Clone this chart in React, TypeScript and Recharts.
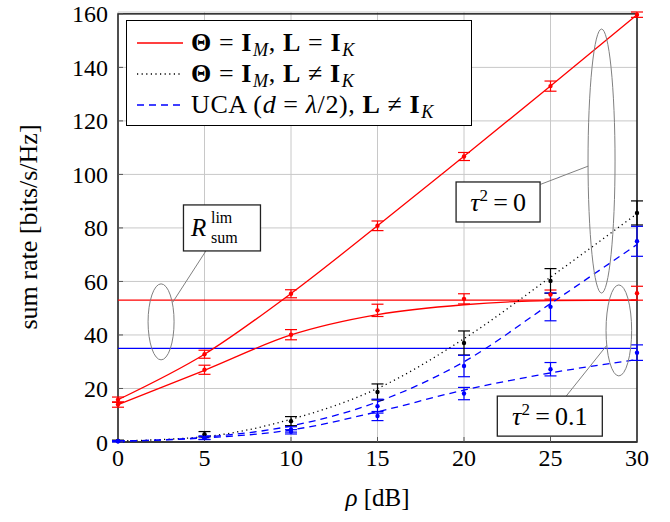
import React from "react";
import {
  ComposedChart,
  Line,
  Scatter,
  ErrorBar,
  XAxis,
  YAxis,
  CartesianGrid,
  ReferenceLine,
  ReferenceArea,
  ReferenceDot,
} from "recharts";

const FONT = "'Liberation Serif', 'DejaVu Serif', serif";
const RED = "#ff0000";
const BLUE = "#0000ff";
const GRAY = "#808080";

const rho = [0, 5, 10, 15, 20, 25, 30];
const xTicks = [0, 5, 10, 15, 20, 25, 30];
const yTicks = [0, 20, 40, 60, 80, 100, 120, 140, 160];

// analytical curves
const idealTau0 = [15.8, 32.8, 55.5, 80.8, 106.8, 133, 159.7];
const idealTau01 = [14, 26.8, 40, 47.6, 51.3, 52.8, 53.0];
const idealCorr = [0.4, 2.0, 8.5, 20, 38.6, 61.6, 85.3];
const ucaTau0 = [0.3, 1.8, 6.0, 15.0, 30.0, 51.7, 73.8];
const ucaTau01 = [0.3, 1.5, 4.5, 11.3, 19.4, 25.8, 30.8];

// simulated means
const simIdealTau0 = [15.8, 32.8, 55.4, 80.8, 106.7, 133, 159.7];
const simIdealTau01 = [14, 27, 40.1, 49.2, 53.5, 55.1, 55.6];
const simCorr = [0.4, 2.9, 7.8, 18.7, 37, 60.2, 85.6];
const simUcaTau0 = [0.3, 1.6, 4.7, 13.4, 28.4, 50.5, 75];
const simUcaTau01 = [0.3, 1.5, 3.8, 9.7, 18.1, 27.2, 33.4];

// error bar half-widths
const errIdealTau0 = [1, 1.5, 1.5, 1.8, 1.5, 1.9, 1];
const errIdealTau01 = [1, 1.7, 1.9, 2.3, 1.9, 1.7, 2.6];
const errCorr = [0.3, 1, 1.7, 3, 4.5, 4.6, 4.5];
const errUcaTau0 = [0.2, 0.7, 1, 2.6, 4, 5.2, 5.6];
const errUcaTau01 = [0.2, 0.5, 0.8, 1.7, 2.3, 2.5, 2.9];

// asymptotic limits
const limIdeal = 53;
const limUca = 35;

const table = rho.map((r, i) => ({
  rho: r,
  idealTau0: idealTau0[i],
  idealTau01: idealTau01[i],
  idealCorr: idealCorr[i],
  ucaTau0: ucaTau0[i],
  ucaTau01: ucaTau01[i],
}));

const sim = (vals: number[], errs: number[]) =>
  rho.map((r, i) => ({ rho: r, y: vals[i], err: errs[i] }));

const dot = (color: string) => (p: any) =>
  <circle cx={p.cx} cy={p.cy} r={2.2} fill={color} />;

// annotation shapes
const ellipse = (rx: number, ry: number) => (p: any) =>
  <ellipse cx={p.cx} cy={p.cy} rx={rx} ry={ry} fill="none" stroke={GRAY} strokeWidth={1} />;

const box = (w: number, h: number, children: (cx: number, cy: number) => React.ReactNode) => (p: any) => (
  <g>
    <rect x={p.cx - w / 2} y={p.cy - h / 2} width={w} height={h} fill="#fff" stroke="#222" strokeWidth={1.3} />
    {children(p.cx, p.cy)}
  </g>
);

const rLimLabel = box(77, 46, (cx, cy) => (
  <g fontFamily={FONT} fill="#000">
    <text x={cx - 31} y={cy + 8} fontSize={25} fontStyle="italic">R</text>
    <text x={cx - 11} y={cy - 5} fontSize={16}>lim</text>
    <text x={cx - 11} y={cy + 15} fontSize={16}>sum</text>
  </g>
));

const tauLabel = (w: number, val: string) => box(w, 40, (cx, cy) => (
  <text x={cx} y={cy + 9} fontSize={26} fontFamily={FONT} textAnchor="middle" fill="#000">
    <tspan fontStyle="italic">τ</tspan>
    <tspan dy={-10} fontSize={17}>2</tspan>
    <tspan dy={10}>{"\u2009=\u2009" + val}</tspan>
  </text>
));

const sampleLine = (color: string, dash?: string) => (
  <svg width={46} height={10} style={{ marginRight: 8, verticalAlign: "middle", flex: "none" }}>
    <line x1={0} y1={5} x2={46} y2={5} stroke={color} strokeWidth={1.3} strokeDasharray={dash} />
  </svg>
);

const sub = (s: string) => (
  <sub style={{ fontSize: "0.7em", fontStyle: "italic", verticalAlign: "-0.3em", lineHeight: 0, marginLeft: 1 }}>{s}</sub>
);

function LegendBox() {
  const row: React.CSSProperties = { display: "flex", alignItems: "center", height: 31, whiteSpace: "nowrap" };
  return (
    <div
      style={{
        position: "absolute",
        left: 126,
        top: 20,
        width: 346,
        height: 106,
        boxSizing: "border-box",
        background: "#fff",
        border: "1.3px solid #000",
        padding: "6px 0 0 10px",
        fontFamily: FONT,
        fontSize: 26,
        letterSpacing: 0.6,
        color: "#000",
      }}
    >
      <div style={row}>
        {sampleLine(RED)}
        <span><b>Θ</b> = <b>I</b>{sub("M")}, <b>L</b> = <b>I</b>{sub("K")}</span>
      </div>
      <div style={row}>
        {sampleLine("#000", "1.2 3.4")}
        <span><b>Θ</b> = <b>I</b>{sub("M")}, <b>L</b> ≠ <b>I</b>{sub("K")}</span>
      </div>
      <div style={row}>
        {sampleLine(BLUE, "7 5")}
        <span>UCA (<i>d</i> = <i>λ</i>/2), <b>L</b> ≠ <b>I</b>{sub("K")}</span>
      </div>
    </div>
  );
}

const tickStyle = { fontFamily: FONT, fontSize: 24, fill: "#000" };

export default function App() {
  return (
    <div style={{ position: "relative", width: 670, height: 522 }}>
      <style>{`body{margin:0}`}</style>
      <ComposedChart width={670} height={522} data={table} margin={{ top: 12, right: 33, bottom: 0, left: 0 }}>
        <CartesianGrid stroke="#c8c8c8" strokeWidth={1} />
        <XAxis
          dataKey="rho"
          type="number"
          domain={[0, 30]}
          ticks={xTicks}
          height={80}
          axisLine={false}
          tickSize={-5}
          tickMargin={12}
          tickLine={{ stroke: "#555" }}
          tick={tickStyle}
          label={(p: any) => (
            <text
              x={p.viewBox.x + p.viewBox.width / 2}
              y={p.viewBox.y + 64}
              textAnchor="middle"
              fontFamily={FONT}
              fontSize={25}
              fill="#000"
            >
              <tspan fontStyle="italic">ρ</tspan> [dB]
            </text>
          )}
        />
        <YAxis
          type="number"
          domain={[0, 160]}
          ticks={yTicks}
          width={118}
          axisLine={false}
          tickSize={-5}
          tickMargin={15}
          tickLine={{ stroke: "#555" }}
          tick={tickStyle}
          label={(p: any) => {
            const x = p.viewBox.x + 28;
            const y = p.viewBox.y + p.viewBox.height / 2;
            return (
              <text
                x={x}
                y={y}
                transform={`rotate(-90 ${x} ${y})`}
                textAnchor="middle"
                dominantBaseline="central"
                fontFamily={FONT}
                fontSize={26}
                fill="#000"
              >
                sum rate [bits/s/Hz]
              </text>
            );
          }}
        />
        <ReferenceArea x1={0} x2={30} y1={0} y2={160} fill="none" stroke="#000" strokeWidth={1.3} />

        <ReferenceLine y={limIdeal} stroke={RED} strokeWidth={1.2} />
        <ReferenceLine y={limUca} stroke={BLUE} strokeWidth={1.2} />

        <Line dataKey="idealTau0" type="monotone" stroke={RED} strokeWidth={1.3} dot={false} isAnimationActive={false} />
        <Line dataKey="idealTau01" type="monotone" stroke={RED} strokeWidth={1.3} dot={false} isAnimationActive={false} />
        <Line dataKey="idealCorr" type="monotone" stroke="#000" strokeWidth={1.3} strokeDasharray="1.2 3.4" dot={false} isAnimationActive={false} />
        <Line dataKey="ucaTau0" type="monotone" stroke={BLUE} strokeWidth={1.3} strokeDasharray="7 5" dot={false} isAnimationActive={false} />
        <Line dataKey="ucaTau01" type="monotone" stroke={BLUE} strokeWidth={1.3} strokeDasharray="7 5" dot={false} isAnimationActive={false} />

        <Scatter data={sim(simIdealTau0, errIdealTau0)} dataKey="y" shape={dot(RED)} isAnimationActive={false}>
          <ErrorBar dataKey="err" direction="y" width={6} stroke={RED} strokeWidth={1.2} />
        </Scatter>
        <Scatter data={sim(simIdealTau01, errIdealTau01)} dataKey="y" shape={dot(RED)} isAnimationActive={false}>
          <ErrorBar dataKey="err" direction="y" width={6} stroke={RED} strokeWidth={1.2} />
        </Scatter>
        <Scatter data={sim(simCorr, errCorr)} dataKey="y" shape={dot("#000")} isAnimationActive={false}>
          <ErrorBar dataKey="err" direction="y" width={6} stroke="#000" strokeWidth={1.2} />
        </Scatter>
        <Scatter data={sim(simUcaTau0, errUcaTau0)} dataKey="y" shape={dot(BLUE)} isAnimationActive={false}>
          <ErrorBar dataKey="err" direction="y" width={6} stroke={BLUE} strokeWidth={1.2} />
        </Scatter>
        <Scatter data={sim(simUcaTau01, errUcaTau01)} dataKey="y" shape={dot(BLUE)} isAnimationActive={false}>
          <ErrorBar dataKey="err" direction="y" width={6} stroke={BLUE} strokeWidth={1.2} />
        </Scatter>

        {/* callouts */}
        <ReferenceDot x={2.49} y={44.9} shape={ellipse(13, 38)} />
        <ReferenceDot x={27.95} y={105} shape={ellipse(13.5, 132)} />
        <ReferenceDot x={28.95} y={41.7} shape={ellipse(12.8, 45.5)} />
        <ReferenceLine segment={[{ x: 3.16, y: 52.2 }, { x: 5.09, y: 71.5 }]} stroke={GRAY} strokeWidth={1} />
        <ReferenceLine segment={[{ x: 27.18, y: 103.1 }, { x: 24.43, y: 96.3 }]} stroke={GRAY} strokeWidth={1} />
        <ReferenceLine segment={[{ x: 28.25, y: 36.1 }, { x: 25.9, y: 17.1 }]} stroke={GRAY} strokeWidth={1} />
        <ReferenceDot x={6.01} y={80} shape={rLimLabel} />
        <ReferenceDot x={21.97} y={89.7} shape={tauLabel(84, "0")} />
        <ReferenceDot x={24.96} y={9.67} shape={tauLabel(105, "0.1")} />
      </ComposedChart>
      <LegendBox />
    </div>
  );
}
